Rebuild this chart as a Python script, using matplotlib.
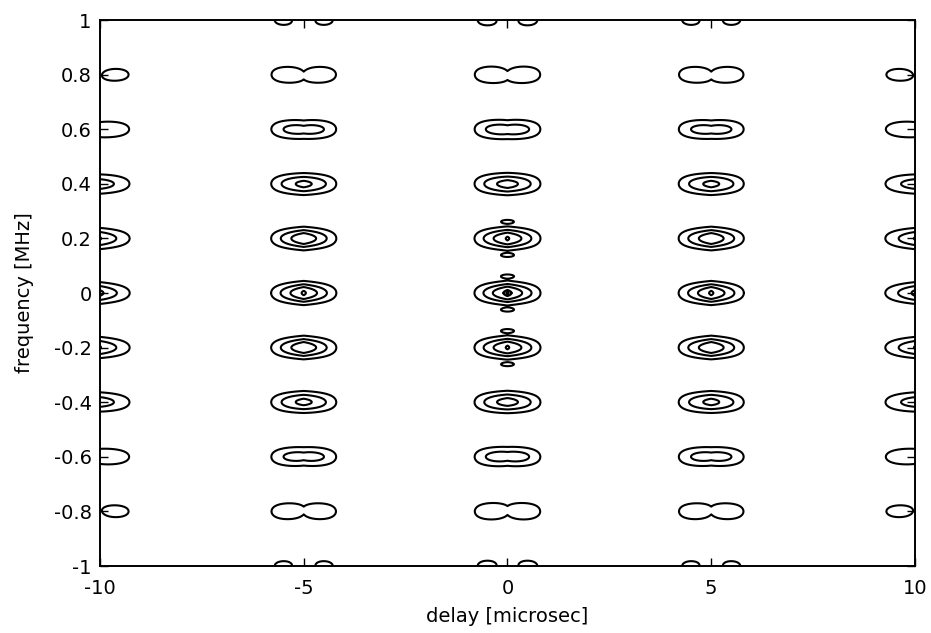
import numpy as np
import matplotlib
matplotlib.use('Agg')
import matplotlib.pyplot as plt

plt.rcParams['font.family'] = ['DejaVu Sans']
plt.rcParams['axes.unicode_minus'] = False

# blob centres of the ambiguity surface
delays = [-10, -5, 0, 5, 10]                      # microsec
freqs = [-1.0, -0.8, -0.6, -0.4, -0.2, 0.0, 0.2, 0.4, 0.6, 0.8, 1.0]  # MHz

# relative peak of each delay column / frequency row
col_amp = [0.70, 0.95, 1.0, 0.95, 0.70]
row_amp = [0.8, 1, 1, 1, 1, 1, 1, 1, 1, 1, 0.8]

# small side spots above/below the centre column
spot_delay = 0
spot_freqs = [-0.2, 0.0, 0.2]
spot_offset = 0.062
spot_amp = 0.26

pulse_width = 1.0     # microsec
lobe_width = 0.035    # MHz
levels = [0.19, 0.41, 0.64, 0.90, 0.97]

x_ticks = [-10, -5, 0, 5, 10]
y_ticks = [-1, -0.8, -0.6, -0.4, -0.2, 0, 0.2, 0.4, 0.6, 0.8, 1]
y_labels = ['-1', '-0.8', '-0.6', '-0.4', '-0.2', '0', '0.2', '0.4', '0.6', '0.8', '1']

tau = np.linspace(-10, 10, 1601)
nu = np.linspace(-1, 1, 1001)
T, N = np.meshgrid(tau, nu)

lobes = np.zeros_like(N)
for f, a in zip(freqs, row_amp):
    lobes += a * np.exp(-((N - f) / lobe_width) ** 2)

Z = np.zeros_like(T)
for d, a in zip(delays, col_amp):
    u = np.clip(1 - np.abs(T - d) / pulse_width, 0, None)
    Z += a * u * np.abs(np.sinc(N * pulse_width * u)) * lobes

for f in spot_freqs:
    for s in (-1, 1):
        Z += spot_amp * np.exp(-((T - spot_delay) / 0.22) ** 2
                               - ((N - f - s * spot_offset) / 0.009) ** 2)

fig = plt.figure(figsize=(9.31, 6.33), dpi=100)
ax = fig.add_axes([0.1074, 0.1058, 0.8754, 0.8626])
ax.contour(T, N, Z, levels=levels, colors='k', linewidths=1.5)

ax.set_xlim(-10, 10)
ax.set_ylim(-1, 1)
ax.set_xticks(x_ticks)
ax.set_yticks(y_ticks)
ax.set_yticklabels(y_labels)
ax.tick_params(direction='in', length=6, width=1, labelsize=14,
               top=True, right=True)
ax.tick_params(axis='x', pad=9)
ax.tick_params(axis='y', pad=6)
for sp in ax.spines.values():
    sp.set_linewidth(1.4)

ax.set_xlabel('delay [microsec]', fontsize=14, labelpad=7)
ax.set_ylabel('frequency [MHz]', fontsize=14, labelpad=14)

fig.savefig('out.png', dpi=100)
